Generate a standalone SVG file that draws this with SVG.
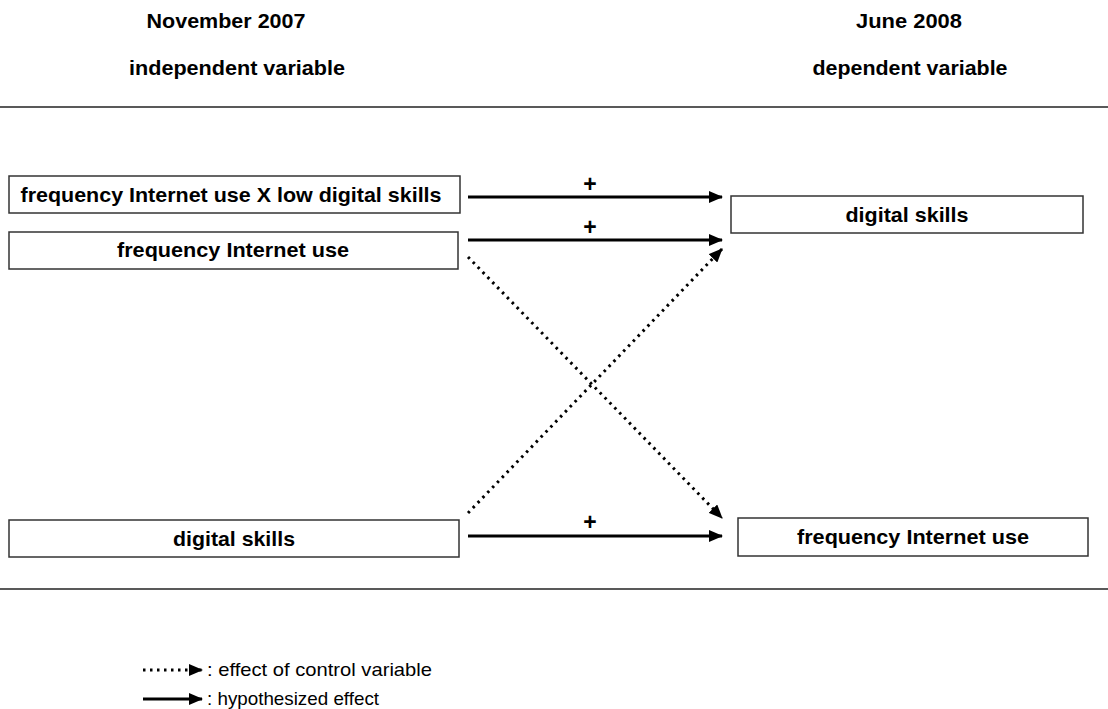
<svg xmlns="http://www.w3.org/2000/svg" width="1108" height="709" viewBox="0 0 1108 709">
<defs>
<style>
.hd{font-family:"Liberation Sans",Arial,sans-serif;font-weight:bold;font-size:20px;fill:#000}
.nt{font-family:"Liberation Sans",Arial,sans-serif;font-weight:bold;font-size:20.5px;fill:#000}
.lg{font-family:"Liberation Sans",Arial,sans-serif;font-size:19px;fill:#000}
.pl{font-family:"Liberation Sans",Arial,sans-serif;font-weight:bold;font-size:23px;fill:#000}
.box{fill:#fff;stroke:#333;stroke-width:1.5}
.rule{stroke:#222;stroke-width:1.5}
.solid{stroke:#000;stroke-width:3;fill:none}
.dot{stroke:#000;stroke-width:3;fill:none;stroke-dasharray:2.5 4.5}
</style>
<marker id="ah" markerUnits="userSpaceOnUse" markerWidth="14" markerHeight="12" refX="13" refY="6" orient="auto">
<path d="M0,0 L14,6 L0,12 z" fill="#000"/>
</marker>
</defs>
<rect width="1108" height="709" fill="#fff"/>

<g id="headers">
<text class="hd" x="226" y="28" text-anchor="middle" textLength="159" lengthAdjust="spacingAndGlyphs">November 2007</text>
<text class="hd" x="237" y="75" text-anchor="middle" textLength="216" lengthAdjust="spacingAndGlyphs">independent variable</text>
<text class="hd" x="909" y="28" text-anchor="middle" textLength="106" lengthAdjust="spacingAndGlyphs">June 2008</text>
<text class="hd" x="910" y="75" text-anchor="middle" textLength="195" lengthAdjust="spacingAndGlyphs">dependent variable</text>
</g>

<line class="rule" x1="0" y1="107" x2="1108" y2="107"/>
<line class="rule" x1="0" y1="589" x2="1108" y2="589"/>

<g id="n-freq-x-low">
<rect class="box" x="9" y="176" width="451" height="37"/>
<text class="nt" x="231" y="202" text-anchor="middle" textLength="421" lengthAdjust="spacingAndGlyphs">frequency Internet use X low digital skills</text>
</g>
<g id="n-freq-2007">
<rect class="box" x="9" y="232" width="449" height="37"/>
<text class="nt" x="233" y="257" text-anchor="middle" textLength="232" lengthAdjust="spacingAndGlyphs">frequency Internet use</text>
</g>
<g id="n-skills-2007">
<rect class="box" x="9" y="520" width="450" height="37"/>
<text class="nt" x="234" y="546" text-anchor="middle" textLength="122" lengthAdjust="spacingAndGlyphs">digital skills</text>
</g>
<g id="n-skills-2008">
<rect class="box" x="731" y="196" width="352" height="37"/>
<text class="nt" x="907" y="222" text-anchor="middle" textLength="123" lengthAdjust="spacingAndGlyphs">digital skills</text>
</g>
<g id="n-freq-2008">
<rect class="box" x="738" y="518" width="350" height="38"/>
<text class="nt" x="913" y="544" text-anchor="middle" textLength="232" lengthAdjust="spacingAndGlyphs">frequency Internet use</text>
</g>

<g id="connectors">
<line class="solid" x1="468" y1="197" x2="722" y2="197" marker-end="url(#ah)"/>
<line class="solid" x1="468" y1="240" x2="722" y2="240" marker-end="url(#ah)"/>
<line class="solid" x1="468" y1="536" x2="722" y2="536" marker-end="url(#ah)"/>
<line class="dot" x1="468" y1="257" x2="722" y2="518" marker-end="url(#ah)"/>
<line class="dot" x1="468" y1="513" x2="722" y2="249" marker-end="url(#ah)"/>
<text class="pl" x="590" y="192" text-anchor="middle">+</text>
<text class="pl" x="590" y="235" text-anchor="middle">+</text>
<text class="pl" x="590" y="530" text-anchor="middle">+</text>
</g>

<g id="legend">
<line class="dot" x1="143" y1="670" x2="202" y2="670" marker-end="url(#ah)"/>
<text class="lg" x="207" y="676" textLength="225" lengthAdjust="spacingAndGlyphs">: effect of control variable</text>
<line class="solid" x1="143" y1="699" x2="202" y2="699" marker-end="url(#ah)"/>
<text class="lg" x="207" y="705" textLength="172" lengthAdjust="spacingAndGlyphs">: hypothesized effect</text>
</g>
</svg>
